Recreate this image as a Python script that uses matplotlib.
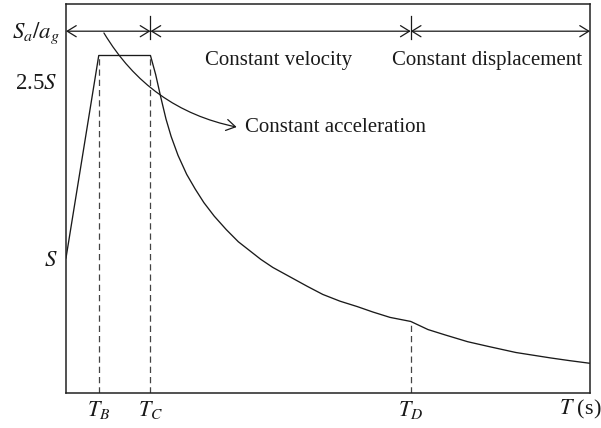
import matplotlib
matplotlib.use("Agg")
import matplotlib.pyplot as plt

plt.rcParams["font.family"] = ["Liberation Serif", "DejaVu Serif"]
plt.rcParams["mathtext.fontset"] = "stix"

# Design response spectrum: normalised spectral acceleration Sa/ag versus period T
T_B = 0.19
T_C = 0.49
T_D = 2.00
T_MAX = 3.04

period = [0.00, 0.19, 0.49, 0.52, 0.55, 0.58, 0.61, 0.65, 0.70, 0.75,
          0.80, 0.86, 0.93, 1.00, 1.06, 1.13, 1.20, 1.30, 1.40, 1.49,
          1.59, 1.69, 1.78, 1.88, 2.00, 2.10, 2.20, 2.33, 2.45, 2.61,
          2.71, 2.81, 2.92, 3.04]
sa_ag = [1.00, 2.50, 2.50, 2.36, 2.19, 2.03, 1.90, 1.76, 1.62, 1.51,
         1.41, 1.31, 1.21, 1.12, 1.06, 0.99, 0.93, 0.86, 0.79, 0.73,
         0.68, 0.64, 0.60, 0.56, 0.53, 0.47, 0.43, 0.38, 0.345, 0.30,
         0.28, 0.26, 0.24, 0.22]

corner_periods = [T_B, T_C, T_D]
corner_values = [2.50, 2.50, 0.53]
corner_labels = ["$T_B$", "$T_C$", "$T_D$"]

region_labels = ["Constant velocity", "Constant displacement"]
region_centres = [1.235, 2.44]

INK = "#1a1a1a"

fig = plt.figure(figsize=(6.01, 4.28), dpi=100)
ax = fig.add_axes([66 / 601, 35 / 428, 524 / 601, 389 / 428])
ax.set_xlim(0, T_MAX)
ax.set_ylim(0, 389 / 135)
ax.set_xticks([])
ax.set_yticks([])
for sp in ax.spines.values():
    sp.set_linewidth(1.1)
    sp.set_color("#222222")

# spectrum curve
ax.plot(period, sa_ag, color=INK, lw=0.95, solid_joinstyle="round")

# dashed guides at the corner periods
for tp, v in zip(corner_periods, corner_values):
    ax.plot([tp, tp], [0, v], color="#444444", lw=0.9, dashes=(5, 3.2))

# corner period labels under the axis
for tp, lab in zip(corner_periods, corner_labels):
    ax.text(tp, -0.125, lab, ha="center", va="center", fontsize=16,
            color=INK, clip_on=False)
ax.text(T_MAX + 0.065, -0.125, "$T$ (s)", ha="right", va="center",
        fontsize=16, color=INK, clip_on=False)

# y-axis annotations
ax.text(-0.035, 2.665, "$S_a/a_g$", ha="right", va="center", fontsize=16.5,
        color=INK, clip_on=False)
ax.text(-0.05, 2.29, "2.5$S$", ha="right", va="center", fontsize=16.5,
        color=INK, clip_on=False)
ax.text(-0.05, 0.98, "$S$", ha="right", va="center", fontsize=16.5,
        color=INK, clip_on=False)

# double-headed range arrows along the top
y_arrow = 2.68
bounds = [0.0, T_C, T_D, T_MAX]
for a, b in zip(bounds[:-1], bounds[1:]):
    ax.annotate("", xy=(b, y_arrow), xytext=(a, y_arrow),
                arrowprops=dict(arrowstyle="<->,head_length=0.65,head_width=0.4",
                                lw=0.9, color=INK, shrinkA=0, shrinkB=0,
                                mutation_scale=10),
                annotation_clip=False)
for tp in [T_C, T_D]:
    ax.plot([tp, tp], [2.62, 2.79], color=INK, lw=0.9)

for lab, xc in zip(region_labels, region_centres):
    ax.text(xc, 2.46, lab, ha="center", va="center", fontsize=15, color=INK)

# curved pointer to the constant acceleration branch
ax.annotate("", xy=(0.99, 1.97), xytext=(0.22, 2.667),
            arrowprops=dict(arrowstyle="->,head_length=0.65,head_width=0.4",
                            connectionstyle="arc3,rad=0.22", lw=0.9,
                            color=INK, shrinkA=0, shrinkB=0,
                            mutation_scale=10))
ax.text(1.04, 1.965, "Constant acceleration", ha="left", va="center",
        fontsize=15, color=INK)

fig.savefig("out.png", dpi=100)
